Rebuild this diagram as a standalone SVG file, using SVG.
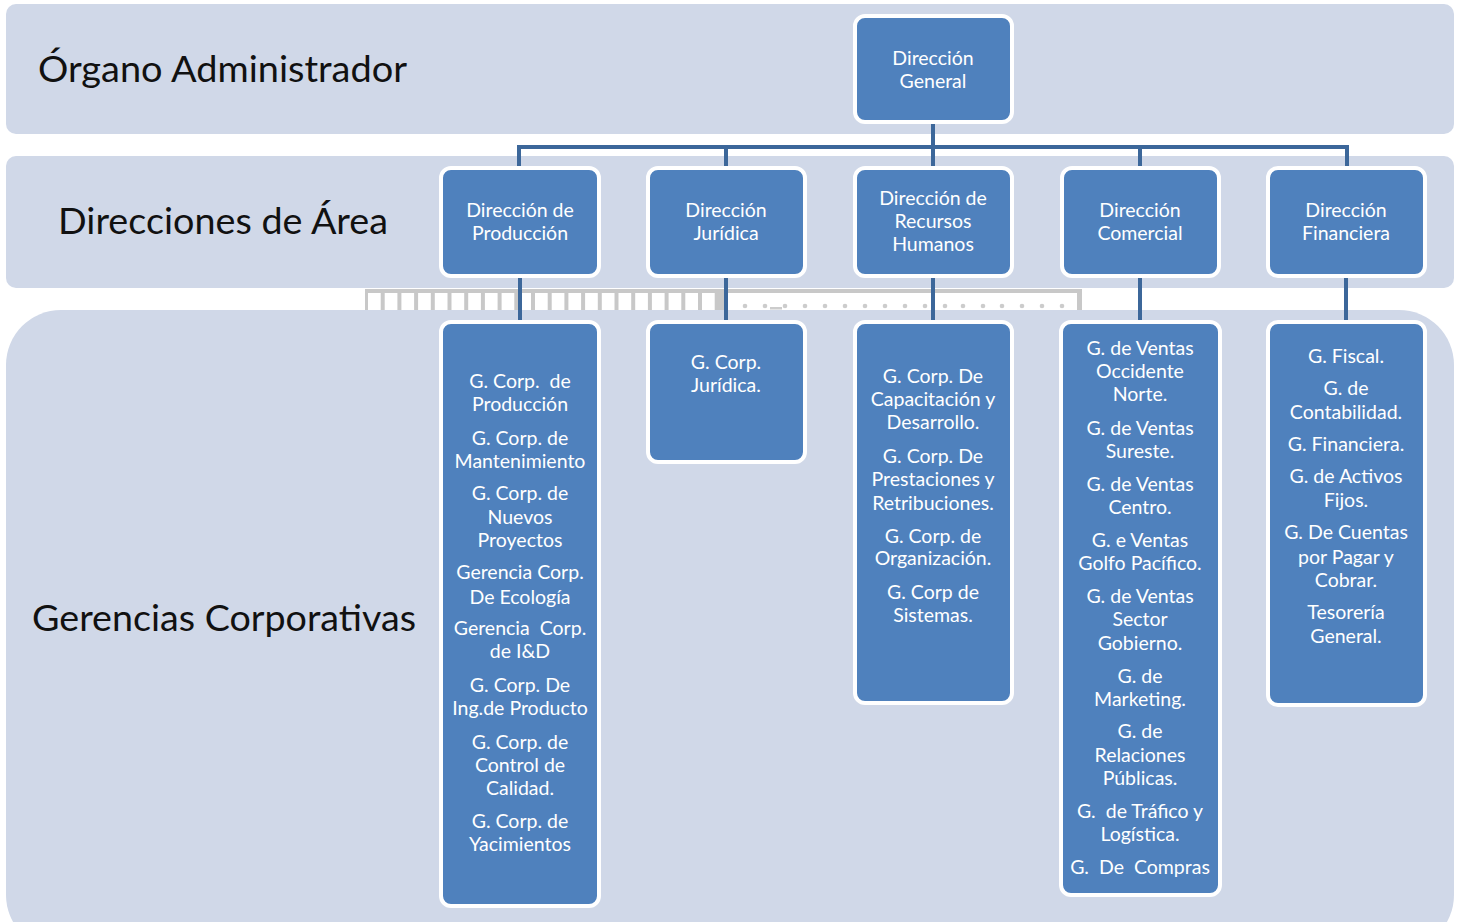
<svg xmlns="http://www.w3.org/2000/svg" width="1460" height="922" viewBox="0 0 1460 922">
<defs>
<style>
.band{fill:#D0D8E8}
.box{fill:#4F81BD;stroke:#FFFFFF;stroke-width:4}
.t{font-family:Lato,"Open Sans","Liberation Sans",sans-serif;font-size:19.5px;fill:#FFFFFF;text-anchor:middle;white-space:pre}
.title{font-family:Lato,"Open Sans","Liberation Sans",sans-serif;font-size:37px;fill:#111111}
.conn{stroke:#3C679A;stroke-width:4;fill:none;stroke-linejoin:miter}
.dot{fill:#CCCCCC}
.wb{fill:#FFFFFF}
</style>
</defs>
<rect width="1460" height="922" fill="#FFFFFF"/>
<g id="bands">
<rect class="band" x="6" y="4" width="1448" height="130" rx="10"/>
<rect class="band" x="6" y="156" width="1448" height="132" rx="10"/>
<rect class="band" x="6" y="310" width="1448" height="640" rx="55"/>
</g>
<g id="strip">
<rect x="365" y="289" width="717" height="21" fill="#C8C8C8"/>
<g class="wb">
<rect x="368" y="293" width="12.7" height="17"/><rect x="384.7" y="293" width="12.7" height="17"/><rect x="401.4" y="293" width="12.7" height="17"/><rect x="418.1" y="293" width="12.7" height="17"/><rect x="434.8" y="293" width="12.7" height="17"/><rect x="451.5" y="293" width="12.7" height="17"/><rect x="468.2" y="293" width="12.7" height="17"/><rect x="484.9" y="293" width="12.7" height="17"/><rect x="501.6" y="293" width="12.7" height="17"/><rect x="518.3" y="293" width="12.7" height="17"/><rect x="535" y="293" width="12.7" height="17"/><rect x="551.7" y="293" width="12.7" height="17"/><rect x="568.4" y="293" width="12.7" height="17"/><rect x="585.1" y="293" width="12.7" height="17"/><rect x="601.8" y="293" width="12.7" height="17"/><rect x="618.5" y="293" width="12.7" height="17"/><rect x="635.2" y="293" width="12.7" height="17"/><rect x="651.9" y="293" width="12.7" height="17"/><rect x="668.6" y="293" width="12.7" height="17"/><rect x="685.3" y="293" width="12.7" height="17"/><rect x="702" y="293" width="12.7" height="17"/>
<rect x="727" y="293" width="350" height="17"/>
</g>
<g class="dot">
<circle cx="745" cy="306" r="2.3"/><circle cx="765" cy="306" r="2.3"/><circle cx="785" cy="306" r="2.3"/><circle cx="805" cy="306" r="2.3"/><circle cx="825" cy="306" r="2.3"/><circle cx="845" cy="306" r="2.3"/><circle cx="865" cy="306" r="2.3"/><circle cx="885" cy="306" r="2.3"/><circle cx="905" cy="306" r="2.3"/><circle cx="925" cy="306" r="2.3"/><circle cx="945" cy="306" r="2.3"/><circle cx="963" cy="306" r="2.3"/><circle cx="983" cy="306" r="2.3"/><circle cx="1002" cy="306" r="2.3"/><circle cx="1022" cy="306" r="2.3"/><circle cx="1042" cy="306" r="2.3"/><circle cx="1062" cy="306" r="2.3"/>
<rect x="770" y="307" width="12" height="2.5"/>
</g>
</g>
<g id="titles">
<text class="title" x="38" y="82" textLength="369" lengthAdjust="spacingAndGlyphs">Órgano Administrador</text>
<text class="title" x="58" y="234" textLength="330" lengthAdjust="spacingAndGlyphs">Direcciones de Área</text>
<text class="title" x="32" y="631" textLength="384" lengthAdjust="spacingAndGlyphs">Gerencias Corporativas</text>
</g>
<g id="connectors">
<path class="conn" d="M933 124 V147 M519 168 V147 H1347 V168 M726 147 V168 M933 147 V168 M1140 147 V168"/>
<path class="conn" d="M520 278 V321 M726 278 V321 M933 278 V321 M1140 278 V321 M1346 278 V321"/>
</g>
<g id="n-direccion-general">
<rect class="box" x="855" y="16" width="157" height="106" rx="10"/>
<text class="t" x="933" y="65">Dirección</text>
<text class="t" x="933" y="88">General</text>
</g>
<g id="n-dir-produccion">
<rect class="box" x="441" y="168" width="158" height="108" rx="10"/>
<text class="t" x="520" y="217">Dirección de</text>
<text class="t" x="520" y="240">Producción</text>
</g>
<g id="n-dir-juridica">
<rect class="box" x="648" y="168" width="157" height="108" rx="10"/>
<text class="t" x="726" y="217">Dirección</text>
<text class="t" x="726" y="240">Jurídica</text>
</g>
<g id="n-dir-rrhh">
<rect class="box" x="855" y="168" width="157" height="108" rx="10"/>
<text class="t" x="933" y="205">Dirección de</text>
<text class="t" x="933" y="228">Recursos</text>
<text class="t" x="933" y="251">Humanos</text>
</g>
<g id="n-dir-comercial">
<rect class="box" x="1062" y="168" width="157" height="108" rx="10"/>
<text class="t" x="1140" y="217">Dirección</text>
<text class="t" x="1140" y="240">Comercial</text>
</g>
<g id="n-dir-financiera">
<rect class="box" x="1268" y="168" width="157" height="108" rx="10"/>
<text class="t" x="1346" y="217">Dirección</text>
<text class="t" x="1346" y="240">Financiera</text>
</g>
<g id="n-ger-produccion">
<rect class="box" x="441" y="322" width="158" height="584" rx="10"/>
<text class="t" x="520" y="388">G. Corp.  de</text>
<text class="t" x="520" y="411">Producción</text>
<text class="t" x="520" y="445">G. Corp. de</text>
<text class="t" x="520" y="468">Mantenimiento</text>
<text class="t" x="520" y="500">G. Corp. de</text>
<text class="t" x="520" y="524">Nuevos</text>
<text class="t" x="520" y="547">Proyectos</text>
<text class="t" x="520" y="579">Gerencia Corp.</text>
<text class="t" x="520" y="604">De Ecología</text>
<text class="t" x="520" y="635">Gerencia  Corp.</text>
<text class="t" x="520" y="658">de I&amp;D</text>
<text class="t" x="520" y="692">G. Corp. De</text>
<text class="t" x="520" y="715">Ing.de Producto</text>
<text class="t" x="520" y="749">G. Corp. de</text>
<text class="t" x="520" y="772">Control de</text>
<text class="t" x="520" y="795">Calidad.</text>
<text class="t" x="520" y="828">G. Corp. de</text>
<text class="t" x="520" y="851">Yacimientos</text>
</g>
<g id="n-ger-juridica">
<rect class="box" x="648" y="322" width="157" height="140" rx="10"/>
<text class="t" x="726" y="369">G. Corp.</text>
<text class="t" x="726" y="392">Jurídica.</text>
</g>
<g id="n-ger-rrhh">
<rect class="box" x="855" y="322" width="157" height="381" rx="10"/>
<text class="t" x="933" y="383">G. Corp. De</text>
<text class="t" x="933" y="406">Capacitación y</text>
<text class="t" x="933" y="429">Desarrollo.</text>
<text class="t" x="933" y="463">G. Corp. De</text>
<text class="t" x="933" y="486">Prestaciones y</text>
<text class="t" x="933" y="510">Retribuciones.</text>
<text class="t" x="933" y="543">G. Corp. de</text>
<text class="t" x="933" y="565">Organización.</text>
<text class="t" x="933" y="599">G. Corp de</text>
<text class="t" x="933" y="622">Sistemas.</text>
</g>
<g id="n-ger-comercial">
<rect class="box" x="1061" y="322" width="159" height="573" rx="10"/>
<text class="t" x="1140" y="355">G. de Ventas</text>
<text class="t" x="1140" y="378">Occidente</text>
<text class="t" x="1140" y="401">Norte.</text>
<text class="t" x="1140" y="435">G. de Ventas</text>
<text class="t" x="1140" y="458">Sureste.</text>
<text class="t" x="1140" y="491">G. de Ventas</text>
<text class="t" x="1140" y="514">Centro.</text>
<text class="t" x="1140" y="547">G. e Ventas</text>
<text class="t" x="1140" y="570">Golfo Pacífico.</text>
<text class="t" x="1140" y="603">G. de Ventas</text>
<text class="t" x="1140" y="626">Sector</text>
<text class="t" x="1140" y="650">Gobierno.</text>
<text class="t" x="1140" y="683">G. de</text>
<text class="t" x="1140" y="706">Marketing.</text>
<text class="t" x="1140" y="738">G. de</text>
<text class="t" x="1140" y="762">Relaciones</text>
<text class="t" x="1140" y="785">Públicas.</text>
<text class="t" x="1140" y="818">G.  de Tráfico y</text>
<text class="t" x="1140" y="841">Logística.</text>
<text class="t" x="1140" y="874">G.  De  Compras</text>
</g>
<g id="n-ger-financiera">
<rect class="box" x="1268" y="322" width="157" height="383" rx="10"/>
<text class="t" x="1346" y="363">G. Fiscal.</text>
<text class="t" x="1346" y="395">G. de</text>
<text class="t" x="1346" y="419">Contabilidad.</text>
<text class="t" x="1346" y="451">G. Financiera.</text>
<text class="t" x="1346" y="483">G. de Activos</text>
<text class="t" x="1346" y="507">Fijos.</text>
<text class="t" x="1346" y="539">G. De Cuentas</text>
<text class="t" x="1346" y="564">por Pagar y</text>
<text class="t" x="1346" y="587">Cobrar.</text>
<text class="t" x="1346" y="619">Tesorería</text>
<text class="t" x="1346" y="643">General.</text>
</g>
</svg>
